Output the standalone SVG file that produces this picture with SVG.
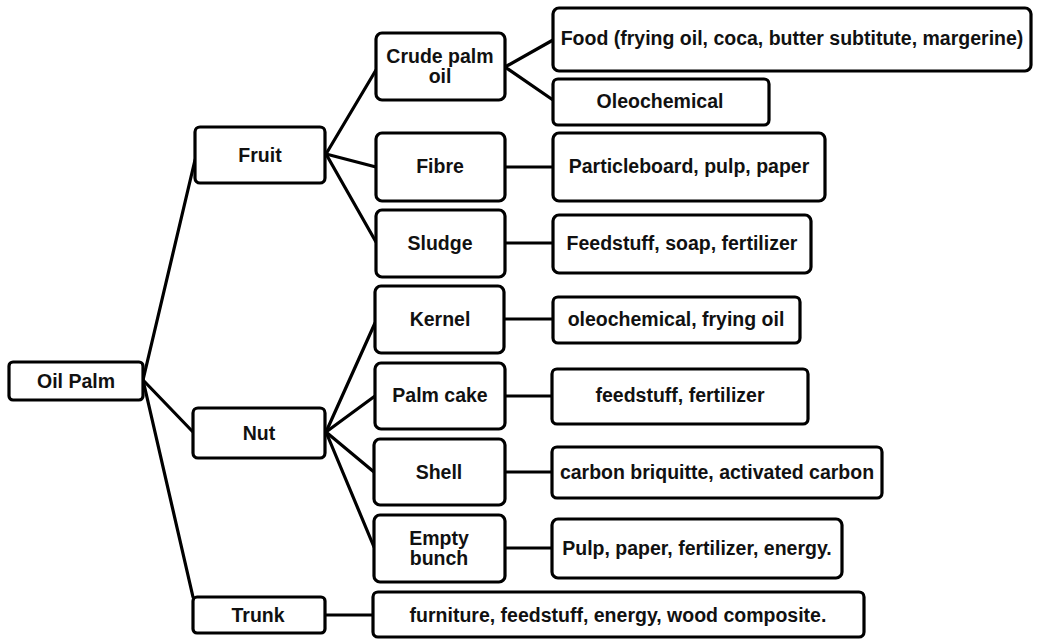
<svg xmlns="http://www.w3.org/2000/svg" width="1039" height="641" viewBox="0 0 1039 641">
<style>
.box{fill:#fff;stroke:#000;stroke-width:3.2;}
.c{fill:none;stroke:#000;stroke-width:3.2;stroke-linecap:round;}
text{font-family:"Liberation Sans",Arial,sans-serif;font-size:19.5px;font-weight:bold;fill:#111;text-anchor:middle;}
</style>
<rect width="1039" height="641" fill="#fff"/>
<g id="connectors">
<line class="c" x1="143" y1="380" x2="195" y2="160"/>
<line class="c" x1="143" y1="380" x2="193" y2="432"/>
<line class="c" x1="143" y1="380" x2="193" y2="597"/>
<line class="c" x1="326" y1="154" x2="376" y2="70"/>
<line class="c" x1="326" y1="154" x2="376" y2="167"/>
<line class="c" x1="326" y1="154" x2="376" y2="242"/>
<line class="c" x1="505" y1="67" x2="553" y2="40"/>
<line class="c" x1="505" y1="67" x2="553" y2="100"/>
<line class="c" x1="505" y1="167" x2="553" y2="167"/>
<line class="c" x1="505" y1="243" x2="553" y2="243"/>
<line class="c" x1="326" y1="432" x2="375" y2="323"/>
<line class="c" x1="326" y1="432" x2="375" y2="396"/>
<line class="c" x1="326" y1="432" x2="374" y2="472"/>
<line class="c" x1="326" y1="432" x2="374" y2="547"/>
<line class="c" x1="504" y1="319" x2="553" y2="319"/>
<line class="c" x1="505" y1="396" x2="552" y2="396"/>
<line class="c" x1="505" y1="472" x2="552" y2="472"/>
<line class="c" x1="505" y1="548" x2="552" y2="548"/>
<line class="c" x1="325" y1="615" x2="373" y2="615"/>
</g>
<g id="oil-palm"><rect class="box" x="9" y="362" width="134" height="38" rx="4"/><text x="76" y="388">Oil Palm</text></g>
<g id="fruit"><rect class="box" x="195" y="127" width="130" height="56" rx="5"/><text x="260" y="162">Fruit</text></g>
<g id="nut"><rect class="box" x="193" y="408" width="132" height="50" rx="5"/><text x="259" y="440">Nut</text></g>
<g id="trunk"><rect class="box" x="193" y="597" width="132" height="36" rx="4"/><text x="258" y="622">Trunk</text></g>
<g id="crude-palm-oil"><rect class="box" x="376" y="33" width="129" height="67" rx="6"/><text x="440" y="63">Crude palm</text><text x="440" y="83">oil</text></g>
<g id="fibre"><rect class="box" x="376" y="133" width="129" height="68" rx="6"/><text x="440" y="173">Fibre</text></g>
<g id="sludge"><rect class="box" x="376" y="210" width="129" height="67" rx="6"/><text x="440" y="250">Sludge</text></g>
<g id="kernel"><rect class="box" x="375" y="286" width="129" height="67" rx="6"/><text x="440" y="326">Kernel</text></g>
<g id="palm-cake"><rect class="box" x="375" y="363" width="130" height="66" rx="6"/><text x="440" y="402">Palm cake</text></g>
<g id="shell"><rect class="box" x="374" y="439" width="131" height="66" rx="6"/><text x="439" y="479">Shell</text></g>
<g id="empty-bunch"><rect class="box" x="374" y="515" width="131" height="67" rx="6"/><text x="439" y="545">Empty</text><text x="439" y="565">bunch</text></g>
<g id="food"><rect class="box" x="553" y="8" width="478" height="63" rx="6"/><text x="792" y="45">Food (frying oil, coca, butter subtitute, margerine)</text></g>
<g id="oleochemical"><rect class="box" x="553" y="79" width="216" height="46" rx="5"/><text x="660" y="108">Oleochemical</text></g>
<g id="particleboard"><rect class="box" x="553" y="133" width="272" height="68" rx="6"/><text x="689" y="173">Particleboard, pulp, paper</text></g>
<g id="feedstuff-soap"><rect class="box" x="553" y="215" width="258" height="58" rx="6"/><text x="682" y="250">Feedstuff, soap, fertilizer</text></g>
<g id="oleochemical-frying"><rect class="box" x="553" y="297" width="247" height="46" rx="5"/><text x="676" y="326">oleochemical, frying oil</text></g>
<g id="feedstuff-fertilizer"><rect class="box" x="552" y="369" width="256" height="55" rx="5"/><text x="680" y="402">feedstuff, fertilizer</text></g>
<g id="carbon"><rect class="box" x="552" y="447" width="330" height="51" rx="5"/><text x="717" y="479">carbon briquitte, activated carbon</text></g>
<g id="pulp"><rect class="box" x="552" y="519" width="290" height="59" rx="6"/><text x="697" y="555">Pulp, paper, fertilizer, energy.</text></g>
<g id="furniture"><rect class="box" x="373" y="592" width="491" height="45" rx="5"/><text x="618" y="622">furniture, feedstuff, energy, wood composite.</text></g>
</svg>
